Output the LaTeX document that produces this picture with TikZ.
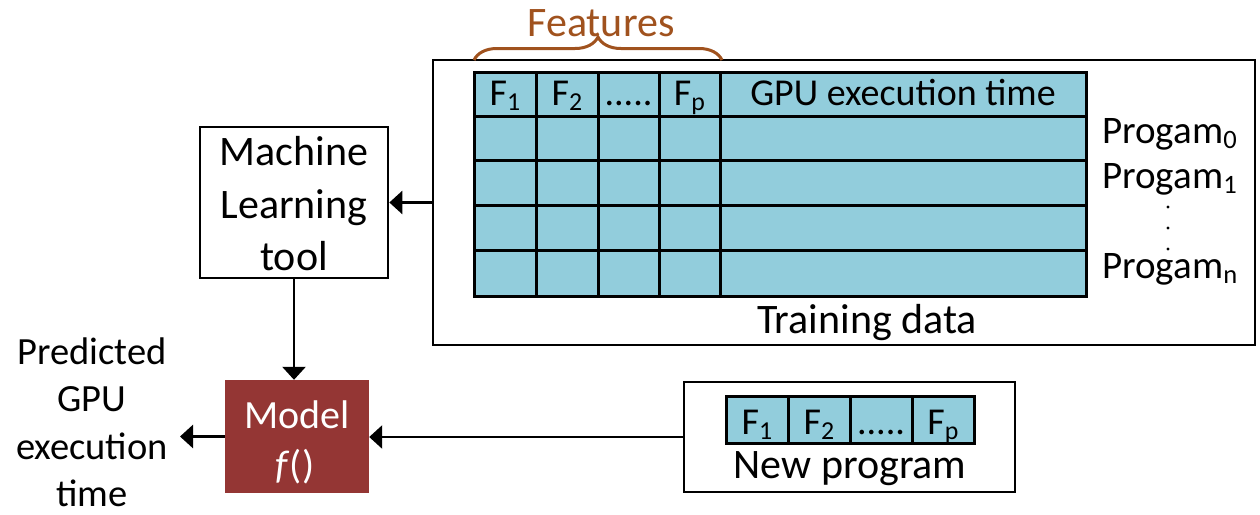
\documentclass[tikz,border=0pt]{standalone}
\usepackage{fontspec}
\setmainfont{Carlito}
\usetikzlibrary{arrows.meta,decorations.pathreplacing}
\definecolor{cellblue}{HTML}{92CDDC}
\definecolor{modelred}{HTML}{943634}
\definecolor{featbrown}{HTML}{A0521E}
% lowered, reduced subscript as used for feature and program indices
\newcommand\lsub[1]{\raisebox{-0.15em}{\scalebox{0.68}{#1}}}
\tikzset{
  frame/.style={draw=black, line width=2.7pt, fill=white, inner sep=0pt},
  gridline/.style={draw=black, line width=3pt},
  link/.style={line width=2.7pt, -{Triangle[length=13pt,width=23pt]}},
  txt/.style={anchor=base, inner sep=0pt, font=\fontsize{42}{50}\selectfont},
  celltxt/.style={anchor=base, inner sep=0pt, font=\fontsize{38}{46}\selectfont},
  predtxt/.style={anchor=base, inner sep=0pt, font=\fontsize{38.5}{46}\selectfont},
  modeltxt/.style={anchor=base, inner sep=0pt, text=white, font=\fontsize{40}{48}\selectfont},
  progtxt/.style={anchor=base west, inner sep=0pt, font=\fontsize{39}{46}\selectfont},
}
\begin{document}
\begin{tikzpicture}[x=1pt,y=-1pt]
\useasboundingbox (0,0) rectangle (1260,514);

% training data frame
\node[frame, minimum width=822pt, minimum height=285pt] (train) at (844,202.5) {};

% feature table
\draw[gridline, fill=cellblue] (474,72) rectangle (1086,296);
\foreach \y in {116,160,205,250}
  \draw[gridline] (474,\y) -- (1086,\y);
\foreach \x in {536,598,659,720}
  \draw[gridline] (\x,72) -- (\x,296);

\node[celltxt] (f1) at (505,105) {F\lsub{1}};
\node[celltxt] (f2) at (567,105) {F\lsub{2}};
\node[celltxt] (fd) at (628.5,105) {.....};
\node[celltxt] (fp) at (689.5,105) {F\lsub{p}};
\node[celltxt] (gpu) at (903,105) {GPU execution time};

% program labels
\node[progtxt] (p0) at (1102,143) {Progam\lsub{0}};
\node[progtxt] (p1) at (1102,188) {Progam\lsub{1}};
\node[progtxt] (pn) at (1102,278) {Progam\lsub{n}};
\foreach \y in {207,228,249}
  \fill (1168,\y) circle[radius=1.7pt];

\node[txt] (traintxt) at (867,333) {Training data};

% features brace
\draw[featbrown, line width=3pt, decorate, decoration={brace, amplitude=23pt}]
  (474,60) -- (722,60);
\node[txt, text=featbrown] (feat) at (601,36) {Features};

% machine learning tool
\node[frame, minimum width=188pt, minimum height=151pt] (ml) at (294,202.5) {};
\node[txt] (ml1) at (294,165) {Machine};
\node[txt] (ml2) at (294,218) {Learning};
\node[txt] (ml3) at (294,270) {tool};

% model
\node[draw=none, fill=modelred, minimum width=144pt, minimum height=113pt, inner sep=0pt] (model) at (297,436.5) {};
\node[modeltxt] (m1) at (297,428) {Model};
\node[modeltxt] (m2) at (295,478) {\textit{f}()};

% new program
\node[frame, minimum width=331pt, minimum height=110pt] (newp) at (849.5,437) {};
\draw[gridline, fill=cellblue] (726,396) rectangle (974,443);
\foreach \x in {788,850,912}
  \draw[gridline] (\x,396) -- (\x,443);
\node[celltxt] (n1) at (757,434) {F\lsub{1}};
\node[celltxt] (n2) at (819,434) {F\lsub{2}};
\node[celltxt] (nd) at (881,434) {.....};
\node[celltxt] (np) at (943,434) {F\lsub{p}};
\node[txt] (newtxt) at (850,478) {New program};

% prediction output
\node[predtxt] (o1) at (92,364) {Predicted};
\node[predtxt] (o2) at (92,411) {GPU};
\node[predtxt] (o3) at (92,459) {execution};
\node[predtxt] (o4) at (92,506) {time};
\coordinate (out) at (180,436.5);

% connectors
\draw[link] (train.west) -- (ml.east);
\draw[link] (ml.south) -- (ml.south |- model.north);
\draw[link] (newp.west) -- (newp.west -| model.east);
\draw[link] (model.west) -- (out);
\end{tikzpicture}
\end{document}
